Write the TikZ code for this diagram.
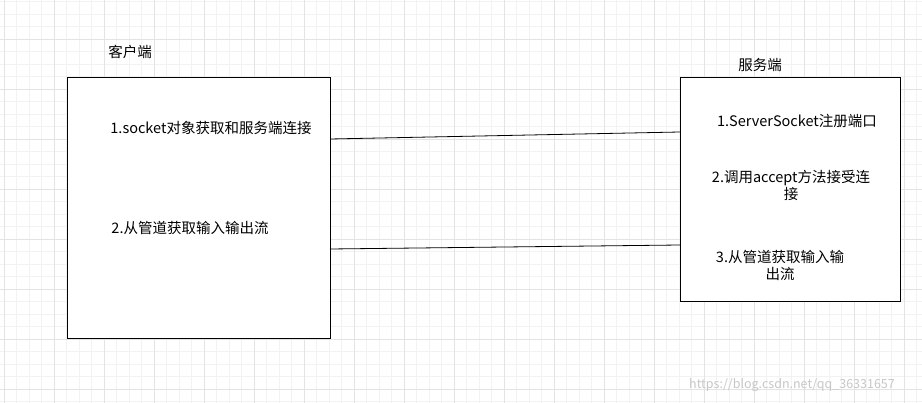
\documentclass[tikz,border=0pt]{standalone}
\usepackage{fontspec}
\setmainfont{Noto Sans CJK SC}
\usetikzlibrary{positioning}
\tikzset{
  label/.style={font=\fontsize{14.5pt}{17pt}\selectfont, align=center, inner sep=0pt},
  box/.style={draw, thick, fill=white, inner sep=0pt}
}
\begin{document}
\begin{tikzpicture}[x=1pt,y=-1pt]
    % Background grid
    \useasboundingbox (0,0) rectangle (922,403);
    \fill[white] (0,0) rectangle (922,403);
    \foreach \i in {0,...,73} \draw[black!5] (4+12.5*\i,0) -- (4+12.5*\i,403);
    \foreach \i in {0,...,32} \draw[black!5] (0,1.5+12.5*\i) -- (922,1.5+12.5*\i);
    \foreach \i in {0,...,18} \draw[black!11] (4+50*\i,0) -- (4+50*\i,403);
    \foreach \i in {0,...,8} \draw[black!11] (0,39+50*\i) -- (922,39+50*\i);

    % Client
    \node[box, minimum width=263pt, minimum height=261pt] (client) at (198.5,207.5) {};
    \node[label] (clienttitle) at (130,52) {客户端};
    \node[label] (c1) at (211,128) {1.socket对象获取和服务端连接};
    \node[label] (c2) at (190,228) {2.从管道获取输入输出流};

    % Server
    \node[box, minimum width=220pt, minimum height=224pt] (server) at (790,189) {};
    \node[label] (servertitle) at (760,65) {服务端};
    \node[label] (s1) at (797,121) {1.ServerSocket注册端口};
    \node[label] (s2) at (791,185) {2.调用accept方法接受连\\接};
    \node[label] (s3) at (780,265) {3.从管道获取输入输\\出流};

    % Connections
    \coordinate (ca) at (330,139);
    \coordinate (sa) at (680,132);
    \coordinate (cb) at (330,249);
    \coordinate (sb) at (680,245);
    \draw[thick] (ca) -- (sa);
    \draw[thick] (cb) -- (sb);

    % Watermark
    \node[label, text=black!22, font=\fontsize{12.5pt}{14pt}\selectfont] (mark) at (792,385) {https://blog.csdn.net/qq\_36331657};
\end{tikzpicture}
\end{document}
